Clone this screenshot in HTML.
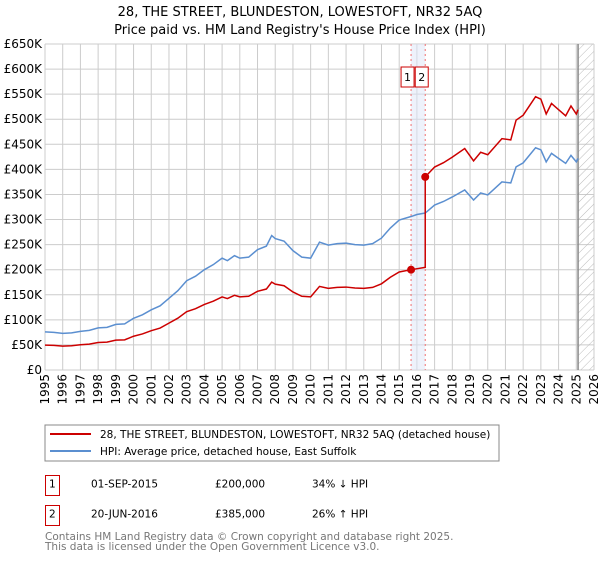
<!DOCTYPE html>
<html><head><meta charset="utf-8"><style>
body{margin:0;background:#fff;font-family:"DejaVu Sans","Liberation Sans",sans-serif;}
svg text{font-family:"DejaVu Sans","Liberation Sans",sans-serif;}
</style></head><body>
<svg id="c" width="600" height="560" xmlns="http://www.w3.org/2000/svg">
<defs><pattern id="hatch" width="6" height="6" patternUnits="userSpaceOnUse" patternTransform="rotate(45)"><line x1="0" y1="0" x2="0" y2="6" stroke="#bbb" stroke-width="1"/></pattern></defs>
<text x="300" y="16" text-anchor="middle" font-size="13">28, THE STREET, BLUNDESTON, LOWESTOFT, NR32 5AQ</text>
<text x="300" y="34" text-anchor="middle" font-size="13">Price paid vs. HM Land Registry's House Price Index (HPI)</text>
<g id="grid"></g><g id="marks"></g><g id="axes"></g>
<rect x="45" y="425" width="454" height="36" fill="#fff" stroke="#888"/>
<line x1="50" y1="434" x2="91" y2="434" stroke="#cc0000" stroke-width="2"/>
<text x="100" y="438" font-size="10.5">28, THE STREET, BLUNDESTON, LOWESTOFT, NR32 5AQ (detached house)</text>
<line x1="50" y1="451" x2="91" y2="451" stroke="#5b8fd0" stroke-width="2"/>
<text x="100" y="455" font-size="10.5">HPI: Average price, detached house, East Suffolk</text>
<g font-size="10.5">
<rect x="45.5" y="475.5" width="14" height="20" fill="none" stroke="#cc0000"/>
<text x="49" y="487.5">1</text><text x="91" y="487.5">01-SEP-2015</text><text x="215" y="487.5">£200,000</text><text x="312" y="487.5">34% ↓ HPI</text>
<rect x="45.5" y="505.5" width="14" height="20" fill="none" stroke="#cc0000"/>
<text x="49" y="517.5">2</text><text x="91" y="517.5">20-JUN-2016</text><text x="215" y="517.5">£385,000</text><text x="312" y="517.5">26% ↑ HPI</text>
</g>
<text x="45" y="540" font-size="10.5" fill="#777">Contains HM Land Registry data © Crown copyright and database right 2025.</text>
<text x="45" y="550" font-size="10.5" fill="#777">This data is licensed under the Open Government Licence v3.0.</text>
</svg>
<script>
const hpiYears=[1995,1995.5,1996,1996.5,1997,1997.5,1998,1998.5,1999,1999.5,2000,2000.5,2001,2001.5,2002,2002.5,2003,2003.5,2004,2004.5,2005,2005.3,2005.7,2006,2006.5,2007,2007.5,2007.8,2008,2008.5,2009,2009.5,2010,2010.5,2011,2011.5,2012,2012.5,2013,2013.5,2014,2014.5,2015,2015.67,2016,2016.47,2017,2017.5,2018,2018.7,2019.2,2019.6,2020,2020.8,2021.3,2021.6,2022,2022.7,2023,2023.3,2023.6,2024,2024.4,2024.7,2025,2025.1];
const hpiValues=[76000,75000,73000,74000,77000,79000,84000,85000,91000,92000,103000,110000,120000,128000,143000,158000,178000,187000,200000,210000,223000,218000,228000,223000,225000,240000,247000,268000,262000,257000,238000,225000,223000,255000,249000,252000,253000,250000,249000,252000,263000,283000,299000,306000,310000,313000,329000,336000,345000,359000,339000,353000,349000,375000,373000,405000,413000,443000,439000,415000,432000,422000,412000,428000,415000,422000];
const saleDates=[2015.67,2016.47];
const salePrices=[200000,385000];
const yTicks=[0,50000,100000,150000,200000,250000,300000,350000,400000,450000,500000,550000,600000,650000];
const yTickLabels=["£0","£50K","£100K","£150K","£200K","£250K","£300K","£350K","£400K","£450K","£500K","£550K","£600K","£650K"];
const xTicks=[1995,1996,1997,1998,1999,2000,2001,2002,2003,2004,2005,2006,2007,2008,2009,2010,2011,2012,2013,2014,2015,2016,2017,2018,2019,2020,2021,2022,2023,2024,2025,2026];
const NS="http://www.w3.org/2000/svg";
const X0=45,X1=594,Y0=370,Y1=44;
const xs=v=>X0+(v-1995)/(2026-1995)*(X1-X0);
const ys=v=>Y0-v/650000*(Y0-Y1);
function mk(p,t,a){const e=document.createElementNS(NS,t);for(const k in a)e.setAttribute(k,a[k]);p.appendChild(e);return e;}
const grid=document.getElementById('grid'),marks=document.getElementById('marks'),axes=document.getElementById('axes');
mk(grid,'rect',{x:X0,y:Y1,width:X1-X0,height:Y0-Y1,fill:'#fff'});
yTicks.forEach((v,i)=>{const l=mk(grid,'line',{x1:X0,x2:X1,y1:ys(v),y2:ys(v),stroke:'#ccc'});


const t=mk(axes,'text',{x:X0-3,y:ys(v)+4,'text-anchor':'end','font-size':'12'});t.textContent=yTickLabels[i];

});
xTicks.forEach(v=>{const l=mk(grid,'line',{x1:xs(v),x2:xs(v),y1:Y1,y2:Y0,stroke:'#ccc'});


const t=mk(axes,'text',{x:0,y:0,'text-anchor':'end','font-size':'12',transform:`translate(${xs(v)+4},${Y0+4}) rotate(-90)`});t.textContent=v;

});
const h=mk(marks,'rect',{x:xs(2025.1),y:Y1,width:X1-xs(2025.1),height:Y0-Y1,fill:'url(#hatch)'});


mk(marks,'line',{x1:xs(2025.1),x2:xs(2025.1),y1:Y1,y2:Y0,stroke:'#888','stroke-width':1.5});
const b=mk(marks,'rect',{x:xs(saleDates[0]),y:Y1,width:xs(saleDates[1])-xs(saleDates[0]),height:Y0-Y1,fill:'#dde6f7',opacity:0.5});


saleDates.forEach((d,i)=>{const l=mk(marks,'line',{x1:xs(d),x2:xs(d),y1:Y1,y2:Y0,stroke:'#f07070','stroke-dasharray':'2,3'});

});
function hpiAt(d){for(let i=1;i<hpiYears.length;i++){if(d<=hpiYears[i]){const f=(d-hpiYears[i-1])/(hpiYears[i]-hpiYears[i-1]);return hpiValues[i-1]+f*(hpiValues[i]-hpiValues[i-1]);}}return hpiValues[hpiValues.length-1];}
const hp=mk(marks,'polyline',{points:hpiYears.map((y,i)=>xs(y)+','+ys(hpiValues[i])).join(' '),fill:'none',stroke:'#5b8fd0','stroke-width':1.5});


const r1=salePrices[0]/hpiAt(saleDates[0]),r2=salePrices[1]/hpiAt(saleDates[1]);
let pts=[];
hpiYears.forEach((y,i)=>{if(y<saleDates[0])pts.push([y,hpiValues[i]*r1]);});
pts.push([saleDates[0],salePrices[0]]);
pts.push([saleDates[1],salePrices[0]*hpiAt(saleDates[1])/hpiAt(saleDates[0])]);
pts.push([saleDates[1],salePrices[1]]);
hpiYears.forEach((y,i)=>{if(y>saleDates[1])pts.push([y,hpiValues[i]*r2]);});
const pl=mk(marks,'polyline',{points:pts.map(p=>xs(p[0])+','+ys(p[1])).join(' '),fill:'none',stroke:'#cc0000','stroke-width':1.5});


saleDates.forEach((d,i)=>{const c=mk(marks,'circle',{cx:xs(d),cy:ys(salePrices[i]),r:4,fill:'#cc0000'});


const bx=mk(marks,'rect',{x:xs(d)-10,y:67,width:13,height:20,fill:'#fff',stroke:'#cc0000'});


const t=mk(marks,'text',{x:xs(d)-3.5,y:81,'text-anchor':'middle','font-size':'11'});t.textContent=String(i+1);

});
</script>
</body></html>
